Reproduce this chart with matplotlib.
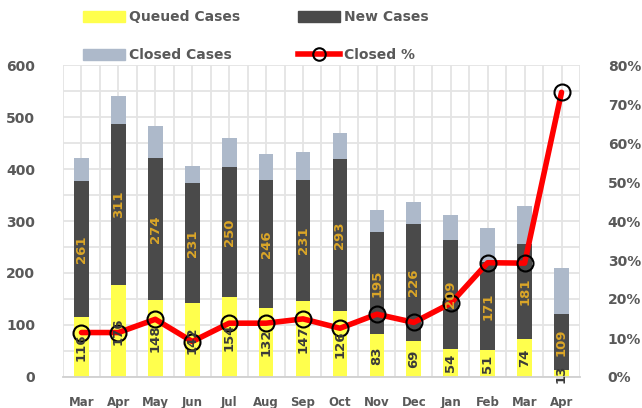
import numpy as np
import matplotlib
matplotlib.use("Agg")
import matplotlib.pyplot as plt
from matplotlib.patches import Patch
from matplotlib.lines import Line2D
from matplotlib.ticker import MultipleLocator, FuncFormatter

months = ["Mar", "Apr", "May", "Jun", "Jul", "Aug", "Sep", "Oct", "Nov", "Dec", "Jan", "Feb", "Mar", "Apr"]
queued = [116, 176, 148, 142, 154, 132, 147, 126, 83, 69, 54, 51, 74, 13]
new_cases = [261, 311, 274, 231, 250, 246, 231, 293, 195, 226, 209, 171, 181, 109]
closed_cases = [45, 54, 61, 33, 55, 51, 55, 50, 44, 41, 49, 64, 73, 88]
closed_pct = [11.4, 11.4, 14.8, 9.1, 13.8, 13.8, 14.9, 12.5, 16.1, 14.0, 18.9, 29.3, 29.2, 73.0]

C_Q = "#FFFF4D"
C_N = "#4A4A4A"
C_C = "#ADB9CA"
C_TXT = "#595959"
C_GOLD = "#DBA628"
C_GRID = "#E4E4E4"

plt.rcParams["font.family"] = ["DejaVu Sans"]

fig = plt.figure(figsize=(6.42, 4.08), dpi=100)
ax = fig.add_axes([63 / 642, 1 - 377 / 408, (580 - 63) / 642, (377 - 65) / 408])

x = np.arange(len(months))
q = np.array(queued)
n = np.array(new_cases)
c = np.array(closed_cases)
w = 0.4
ax.bar(x, q, w, color=C_Q, zorder=2)
ax.bar(x, n, w, bottom=q, color=C_N, zorder=2)
ax.bar(x, c, w, bottom=q + n, color=C_C, zorder=2)

ax.set_xlim(-0.5, len(months) - 0.5)
ax.set_ylim(0, 600)
ax.set_yticks(range(0, 601, 100))
ax.yaxis.set_minor_locator(MultipleLocator(50))
ax.set_xticks(x)
ax.set_xticklabels(months)
ax.set_xticks(np.arange(-0.5, len(months), 1), minor=True)
ax.grid(which="both", axis="both", color=C_GRID, lw=1.3, zorder=0)
ax.set_axisbelow(True)
ax.tick_params(which="both", length=0)
ax.tick_params(axis="y", pad=20, labelsize=10, labelcolor=C_TXT)
ax.tick_params(axis="x", pad=14, labelsize=8.5, labelcolor=C_TXT)
for lab in ax.get_xticklabels() + ax.get_yticklabels():
    lab.set_fontweight("bold")
for s in ["top", "right", "left"]:
    ax.spines[s].set_visible(False)
ax.spines["bottom"].set_color("#D0D0D0")
ax.spines["bottom"].set_linewidth(1.3)

ax2 = ax.twinx()
ax2.set_ylim(0, 0.8)
ax2.set_yticks(np.arange(0, 0.81, 0.1))
ax2.yaxis.set_major_formatter(FuncFormatter(lambda v, p: f"{v*100:.0f}%"))
ax2.tick_params(length=0, pad=20, labelsize=10, labelcolor=C_TXT)
for lab in ax2.get_yticklabels():
    lab.set_fontweight("bold")
for s in ax2.spines.values():
    s.set_visible(False)
pct = np.array(closed_pct) / 100
ax2.plot(x, pct, color="#FF0000", lw=4, marker="o", ms=11.5,
         mfc="none", mec="black", mew=1.5, solid_capstyle="round", zorder=3)

for i in range(len(months)):
    ax2.text(x[i], q[i] / 2, str(queued[i]), transform=ax.transData, rotation=90,
             ha="center", va="center", fontsize=9.5, color="#3A3A3A", zorder=5,
             fontweight="semibold")
    ax2.text(x[i], q[i] + n[i] / 2, str(new_cases[i]), transform=ax.transData, rotation=90,
             ha="center", va="center", fontsize=9.5, color=C_GOLD, zorder=5,
             fontweight="semibold")

handles = [Patch(color=C_Q), Patch(color=C_C), Patch(color=C_N),
           Line2D([0], [0], color="#FF0000", lw=4, marker="o", ms=9, mfc="none", mec="black", mew=1.5)]
labels = ["Queued Cases", "Closed Cases", "New Cases", "Closed %"]
fs = 10
fspx = fs * 100 / 72
fig.legend(handles, labels, ncol=2, loc="upper left",
           bbox_to_anchor=(83 / 642, 1 - 10 / 408), frameon=False, borderpad=0,
           borderaxespad=0, handlelength=42 / fspx, handleheight=12 / fspx,
           handletextpad=4 / fspx, columnspacing=58 / fspx, labelspacing=(38 - fspx) / fspx,
           prop={"weight": "bold", "size": fs}, labelcolor=C_TXT)

fig.savefig("out.png", dpi=100)
